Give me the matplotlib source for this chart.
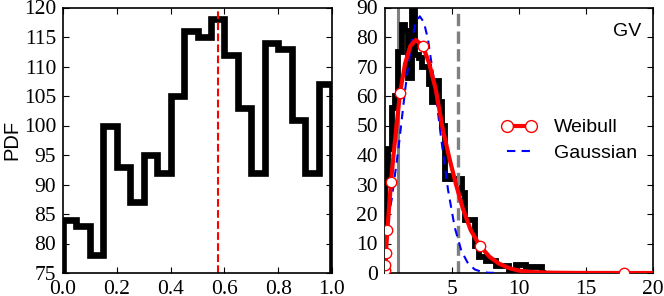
import numpy as np
import matplotlib
matplotlib.use("Agg")
import matplotlib.pyplot as plt
from matplotlib.lines import Line2D

# ---------------- data ----------------
# left panel: histogram on [0, 1], 20 bins
left_edges = np.linspace(0.0, 1.0, 21)
left_counts = [84, 83, 78, 100, 93, 87, 95, 92, 105, 116,
               115, 118, 112, 103, 92, 114, 113, 101, 92, 107]
left_marker_x = 0.575

# right panel: GV histogram, bins of 0.25 from 0 to 12
gv_edges = np.linspace(0.0, 12.0, 49)
gv_counts = [30, 42, 56, 60, 75, 84, 82, 66, 90, 74,
             73, 70, 70, 64, 58, 65, 58, 50, 32, 33,
             32, 32, 32, 27, 18, 18, 18, 9, 5.5, 5.5,
             4, 4, 4, 2.4, 2.4, 2.4, 2.4, 0.7, 0.7, 2.8,
             2.8, 2.8, 1.9, 1.9, 1.9, 1.9, 1.9, 0]

# Weibull fit curve
weib_x = [0, 0.011, 0.028, 0.071, 0.178, 0.3, 0.45, 0.7, 1.12, 1.5,
          1.9, 2.3, 2.82, 3.3, 3.8, 4.3, 4.8, 5.3, 5.8, 6.4,
          7.08, 7.8, 8.5, 9.3, 10, 11, 12.5, 14, 17.8, 20]
weib_y = [0, 1.0, 2.8, 6.8, 14.7, 22, 31, 43, 61, 71,
          77, 79, 77, 71, 62, 49, 39, 30, 22, 14.5,
          9.2, 5.5, 3.2, 1.6, 0.8, 0.3, 0.1, 0.03, 0, 0]
weib_mark_idx = [1, 2, 3, 4, 6, 8, 12, 20, 28]

# Gaussian fit curve
gauss_x = [0, 0.5, 1.0, 1.5, 2.0, 2.3, 2.6, 2.9, 3.2, 3.7,
           4.2, 4.7, 5.2, 5.7, 6.2, 6.7, 7.2, 7.7, 8.5]
gauss_y = [13, 25, 42, 62, 79, 85, 87, 85, 79.4, 63.9,
           45.3, 28.3, 15.5, 7.5, 3.2, 1.2, 0.4, 0.1, 0]

gv_solid_x = 0.95
gv_dashed_x = 5.47

# ---------------- style ----------------
plt.rcParams['font.family'] = ['Liberation Serif', 'DejaVu Serif']
plt.rcParams['xtick.direction'] = 'in'
plt.rcParams['ytick.direction'] = 'in'
plt.rcParams['xtick.top'] = True
plt.rcParams['ytick.right'] = True
plt.rcParams['xtick.major.size'] = 4
plt.rcParams['ytick.major.size'] = 4
plt.rcParams['xtick.major.pad'] = 5
plt.rcParams['ytick.major.pad'] = 5
plt.rcParams['axes.linewidth'] = 1.2

W, H = 664, 296
fig = plt.figure(figsize=(W / 100, H / 100), dpi=100)

def axrect(x0, y0, x1, y1):
    return [x0 / W, 1 - y1 / H, (x1 - x0) / W, (y1 - y0) / H]

tick_fs = 15.5
sans = ['Liberation Sans', 'DejaVu Sans']
gauss_dash = (0, (4, 3))

# ---------------- left panel ----------------
ax1 = fig.add_axes(axrect(63, 7.5, 332, 273))
ax1.stairs(left_counts, left_edges, baseline=0, color='black', linewidth=4.8)
ax1.axvline(left_marker_x, color='red', linestyle='--', linewidth=1.5)
ax1.set_xlim(0, 1)
ax1.set_ylim(75, 120)
ax1.set_xticks([0.0, 0.2, 0.4, 0.6, 0.8, 1.0])
ax1.set_yticks(np.arange(75, 121, 5))
ax1.tick_params(labelsize=tick_fs)
ax1.set_ylabel('PDF', fontsize=14.5, family=sans, labelpad=2)

# ---------------- right panel ----------------
ax2 = fig.add_axes(axrect(385, 7.5, 653, 273))
ax2.stairs(gv_counts, gv_edges, baseline=0, color='black', linewidth=4.2, zorder=2)
ax2.axvline(gv_solid_x, color='#808080', linewidth=2.2, zorder=1.5)
ax2.axvline(gv_dashed_x, color='#808080', linestyle='--', linewidth=2.4, zorder=2.5)
ax2.plot(gauss_x, gauss_y, color='blue', linestyle=gauss_dash, linewidth=1.5, zorder=3)
ax2.plot(weib_x, weib_y, color='red', linewidth=3, marker='o', markevery=weib_mark_idx,
         markersize=7.5, markerfacecolor='white', markeredgecolor='red',
         markeredgewidth=1.0, zorder=4)
ax2.set_xlim(0, 20)
ax2.set_ylim(0, 90)
ax2.set_xticks([5, 10, 15, 20])
ax2.set_yticks(np.arange(0, 91, 10))
ax2.tick_params(labelsize=tick_fs)
ax2.text(0.958, 0.94, 'GV', transform=ax2.transAxes, ha='right', va='top',
         fontsize=14, family=sans)

h_weib = Line2D([], [], color='red', linewidth=3, marker='o', markersize=8.5,
                markerfacecolor='white', markeredgecolor='red', markeredgewidth=1.0)
h_gauss = Line2D([], [], color='blue', linestyle=gauss_dash, linewidth=1.5)
leg = ax2.legend([h_weib, h_gauss], ['Weibull', 'Gaussian'], frameon=False,
                 loc='center left', bbox_to_anchor=(0.37, 0.50), numpoints=2,
                 prop={'family': sans, 'size': 14}, handlelength=1.8,
                 handletextpad=0.9, labelspacing=0.4)

fig.savefig('out.png', dpi=100)
